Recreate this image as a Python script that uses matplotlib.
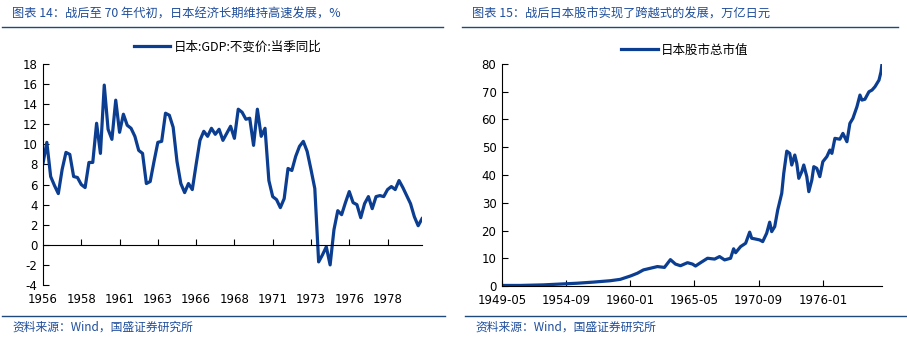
import matplotlib
matplotlib.use('Agg')
import matplotlib.pyplot as plt
from matplotlib.lines import Line2D
import numpy as np
import pandas as pd

plt.rcParams['font.family'] = ['Noto Sans CJK SC', 'DejaVu Sans']
plt.rcParams['axes.unicode_minus'] = False

# Japan real GDP, y/y % by quarter, 1956Q1 onward
gdp_start = '1956Q1'
gdp_yoy = [
    8.1, 10.2, 6.8, 5.9, 5.1, 7.5, 9.2, 9.0, 6.8, 6.7,
    6.0, 5.7, 8.2, 8.2, 12.1, 9.1, 15.9, 11.5, 10.5, 14.4,
    11.2, 13.0, 11.9, 11.6, 10.8, 9.4, 9.1, 6.1, 6.3, 8.3,
    10.2, 10.3, 13.1, 12.9, 11.7, 8.3, 6.1, 5.2, 6.1, 5.5,
    8.0, 10.4, 11.3, 10.8, 11.6, 11.0, 11.5, 10.4, 11.1, 11.8,
    10.6, 13.5, 13.2, 12.5, 12.6, 9.9, 13.5, 10.8, 11.6, 6.4,
    4.8, 4.5, 3.7, 4.6, 7.6, 7.4, 8.8, 9.8, 10.3, 9.3,
    7.5, 5.6, -1.7, -1.0, -0.2, -2.0, 1.5, 3.4, 3.0, 4.2,
    5.3, 4.2, 4.0, 2.7, 4.1, 4.8, 3.6, 4.8, 4.9, 4.8,
    5.5, 5.8, 5.5, 6.4, 5.7, 4.9, 4.1, 2.8, 1.9, 2.6,
]

# Japan total stock market cap, trillion yen
mcap_dates = [
    '1949-05', '1950-11', '1952-10', '1954-03', '1955-08', '1956-12', '1958-05', '1959-03',
    '1960-01', '1960-08', '1961-02', '1961-09', '1962-04', '1962-11', '1963-05', '1963-10',
    '1964-03', '1964-10', '1965-03', '1965-06', '1965-11', '1966-06', '1967-01', '1967-06',
    '1967-11', '1968-05', '1968-08', '1968-10', '1969-03', '1969-08', '1969-12', '1970-02',
    '1970-05', '1970-10', '1971-01', '1971-05', '1971-08', '1971-10', '1972-01', '1972-04',
    '1972-08', '1972-10', '1973-01', '1973-04', '1973-06', '1973-09', '1973-11', '1974-01',
    '1974-04', '1974-06', '1974-09', '1974-11', '1975-02', '1975-04', '1975-07', '1975-10',
    '1976-01', '1976-05', '1976-08', '1976-10', '1977-01', '1977-06', '1977-09', '1978-01',
    '1978-04', '1978-07', '1978-11', '1979-02', '1979-04', '1979-07', '1979-11', '1980-02',
    '1980-05', '1980-09', '1980-11', '1980-12',
]
mcap_values = [
    0.2, 0.2, 0.4, 0.7, 1.0, 1.4, 1.9, 2.4,
    3.6, 4.6, 5.8, 6.4, 7.0, 6.7, 9.5, 7.9,
    7.3, 8.4, 7.9, 7.2, 8.4, 10.0, 9.7, 10.6,
    9.4, 10.0, 13.4, 12.0, 14.2, 15.4, 19.4, 17.2,
    17.0, 16.6, 16.0, 19.0, 23.0, 19.6, 21.4, 27.4,
    33.4, 40.6, 48.6, 47.8, 43.6, 47.2, 44.2, 38.8,
    41.2, 43.6, 39.4, 34.0, 38.2, 43.0, 42.4, 39.4,
    44.8, 46.6, 49.0, 47.8, 53.2, 52.9, 55.0, 52.0,
    58.6, 60.4, 64.6, 68.8, 67.0, 67.3, 70.0, 70.6,
    71.8, 74.2, 77.2, 80.0,
]

titles = ['图表 14：战后至 70 年代初，日本经济长期维持高速发展，%',
          '图表 15：战后日本股市实现了跨越式的发展，万亿日元']
legend_names = ['日本:GDP:不变价:当季同比', '日本股市总市值']
source = '资料来源：Wind，国盛证券研究所'

line_color = '#0b3d91'
text_blue = '#1f4e9c'
rule_blue = '#1f497d'
tick_font = ['Liberation Sans Narrow', 'DejaVu Sans']

W, H = 907, 337
fig = plt.figure(figsize=(W / 100, H / 100), dpi=100)


def fx(px):
    return px / W


def fy(py):
    return 1 - py / H


def rule(x0, x1, y):
    fig.add_artist(Line2D([fx(x0), fx(x1)], [fy(y), fy(y)], color=rule_blue, lw=1.0))


# headers, rules and footers of both panels
for x0, x1, title in [(2, 443, titles[0]), (462, 898, titles[1])]:
    fig.text(fx(x0 + 10), fy(14), title, fontsize=8.8, color=text_blue,
             style='italic', va='center', ha='left')
    rule(x0, x1, 27)
for x0, x1 in [(2, 445), (465, 907)]:
    rule(x0, x1, 316)
    fig.text(fx(x0 + 10), fy(327), source, fontsize=8.5, color=text_blue,
             style='italic', va='center', ha='left')


def style_axes(ax):
    for side in ['top', 'right']:
        ax.spines[side].set_visible(False)
    for side in ['left', 'bottom']:
        ax.spines[side].set_linewidth(0.8)
        ax.spines[side].set_color('black')
    ax.tick_params(axis='y', direction='in', length=4, width=0.8, labelsize=8.5, pad=4)
    ax.tick_params(axis='x', direction='in', length=4, width=0.8)
    for lbl in ax.get_yticklabels():
        lbl.set_family(tick_font)


# left panel: GDP growth
axL = fig.add_axes([fx(43), fy(285), fx(422 - 43), (285 - 64) / H])
quarters = pd.period_range(gdp_start, periods=len(gdp_yoy), freq='Q')
xq = np.arange(len(gdp_yoy))
axL.plot(xq, gdp_yoy, color=line_color, lw=2.3, label=legend_names[0])
axL.set_xlim(0, len(gdp_yoy) - 1)
axL.set_ylim(-4, 18)
axL.set_yticks(np.arange(-4, 19, 2))
axL.spines['bottom'].set_position(('data', 0))
tick_pos = xq[::10]
axL.set_xticks(tick_pos[1:])
axL.tick_params(axis='x', labelbottom=False)
style_axes(axL)
secL = axL.secondary_xaxis('bottom')
secL.set_xticks(tick_pos, [str(quarters[i].year) for i in tick_pos])
secL.spines['bottom'].set_visible(False)
secL.tick_params(axis='x', length=0, labelsize=8.5, pad=6)
for lbl in secL.get_xticklabels():
    lbl.set_family(tick_font)
axL.legend(loc='center', bbox_to_anchor=(fx(228), fy(47)), bbox_transform=fig.transFigure,
           frameon=False, fontsize=9, handlelength=2.9, handletextpad=0.3)

# right panel: market cap
axR = fig.add_axes([fx(502), fy(286), fx(882 - 502), (286 - 64) / H])
dates = pd.to_datetime(mcap_dates)
axR.plot(dates, mcap_values, color=line_color, lw=2.3, label=legend_names[1])
axR.set_xlim(dates[0], dates[-1])
axR.set_ylim(0, 80)
axR.set_yticks(np.arange(0, 81, 10))
xt = pd.date_range(dates[0], dates[-1], freq='64MS')
axR.set_xticks(xt, [d.strftime('%Y-%m') for d in xt])
style_axes(axR)
axR.tick_params(axis='x', labelsize=8.5, pad=6)
for lbl in axR.get_xticklabels():
    lbl.set_family(tick_font)
axR.legend(loc='center', bbox_to_anchor=(fx(685), fy(50)), bbox_transform=fig.transFigure,
           frameon=False, fontsize=9, handlelength=2.9, handletextpad=0.3)

fig.savefig('out.png', dpi=100)
